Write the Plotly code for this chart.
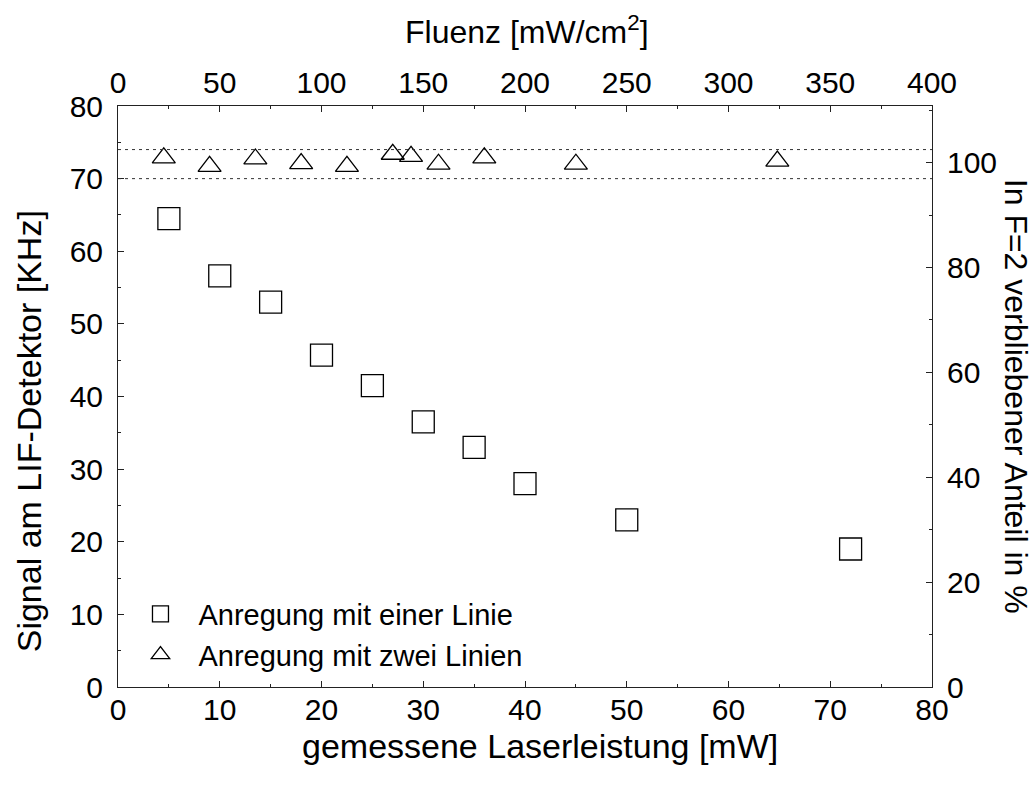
import plotly.graph_objects as go

# Data
leistung_einer = [5, 10, 15, 20, 25, 30, 35, 40, 50, 72]            # mW (bottom axis)
signal_einer = [64.5, 56.6, 53.0, 45.7, 41.5, 36.5, 33.0, 28.0, 23.0, 19.0]  # KHz (left axis)

fluenz_zwei = [22.5, 45, 67.5, 90, 112.5, 135, 144, 157.5, 180, 225, 324]  # mW/cm^2 (top axis)
anteil_zwei = [100.9, 99.3, 100.7, 99.8, 99.3, 101.6, 101.2, 99.7, 100.9, 99.7, 100.3]  # % (right axis)

ref_lines_left = [70, 74]  # dotted reference lines (left axis units)

FONT = "Liberation Sans"
FS_TICK = 30
FS_LEG = 29
AX = "#222222"

fig = go.Figure()
fig.add_trace(go.Scatter(
    x=leistung_einer, y=signal_einer, mode="markers",
    name="Anregung mit einer Linie",
    marker=dict(symbol="square-open", size=22, color="black", line=dict(width=1.3, color="black")),
    xaxis="x", yaxis="y"))
fig.add_trace(go.Scatter(
    x=fluenz_zwei, y=anteil_zwei, mode="markers",
    name="Anregung mit zwei Linien",
    marker=dict(symbol="triangle-up-open", size=20, color="black", line=dict(width=1.3, color="black")),
    xaxis="x2", yaxis="y2"))

for v in ref_lines_left:
    fig.add_shape(type="line", xref="x", yref="y", x0=0, x1=80, y0=v, y1=v,
                  line=dict(color="#333333", width=1, dash="3px,4px"))

common = dict(showgrid=False, zeroline=False, showline=True, linecolor=AX, linewidth=1,
              ticks="inside", ticklen=6, tickcolor=AX, tickwidth=1,
              tickfont=dict(family=FONT, size=FS_TICK, color="black"))

fig.update_layout(
    width=1035, height=785,
    margin=dict(l=117.5, r=103, t=106, b=97.5),
    paper_bgcolor="white", plot_bgcolor="white",
    font=dict(family=FONT, size=FS_TICK, color="black"),
    xaxis=dict(range=[0, 80], dtick=10, tick0=0, side="bottom", anchor="y",
               ticklabelstandoff=-4,
               minor=dict(dtick=5, ticks="inside", ticklen=3, tickcolor=AX), **common),
    xaxis2=dict(range=[0, 400], dtick=50, tick0=0, side="top", overlaying="x", anchor="y",
                ticklabelstandoff=0,
                minor=dict(dtick=25, ticks="inside", ticklen=3, tickcolor=AX), **common),
    yaxis=dict(range=[0, 80], dtick=10, tick0=0, side="left", anchor="x",
               ticklabelstandoff=8,
               minor=dict(dtick=5, ticks="inside", ticklen=3, tickcolor=AX), **common),
    yaxis2=dict(range=[0, 110.8], dtick=20, tick0=0, side="right", overlaying="y", anchor="x",
                ticklabelstandoff=8,
                minor=dict(dtick=10, ticks="inside", ticklen=3, tickcolor=AX), **common),
    showlegend=True,
    legend=dict(x=0.0055, y=0.011, xanchor="left", yanchor="bottom", itemwidth=66,
                bgcolor="rgba(0,0,0,0)", font=dict(family=FONT, size=FS_LEG, color="black")),
)

L, R, T, B = 117.5, 932, 106, 687.5
def px(xp):
    return (xp - L) / (R - L)
def py(yp):
    return (B - yp) / (B - T)

ann = [
    dict(text="gemessene Laserleistung [mW]", x=px(540), y=py(747), textangle=0, size=34),
    dict(text="Fluenz [mW/cm<sup>2</sup>]", x=px(527), y=py(30), textangle=0, size=32),
    dict(text="Signal am LIF-Detektor [KHz]", x=px(28), y=py(432), textangle=-90, size=34),
    dict(text="In F=2 verbliebener Anteil in %", x=px(1016), y=py(397), textangle=90, size=32),
]
for a in ann:
    size = a.pop("size")
    fig.add_annotation(xref="paper", yref="paper", showarrow=False,
                       xanchor="center", yanchor="middle",
                       font=dict(family=FONT, size=size, color="black"), **a)

fig.write_html("out.html")
